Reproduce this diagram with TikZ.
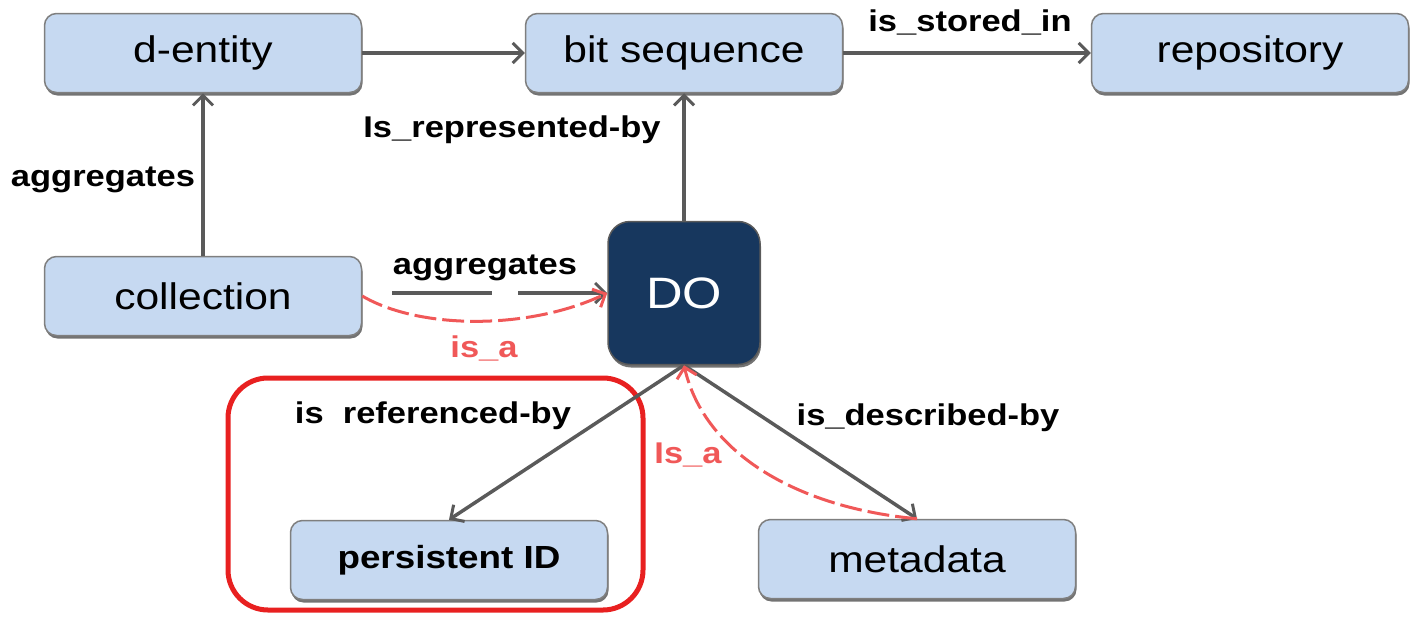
\documentclass[tikz,border=0pt]{standalone}
\usepackage{fontspec}
\setmainfont{Liberation Sans}[FakeStretch=1.15]
\usetikzlibrary{arrows.meta,shadows}
\definecolor{boxfill}{HTML}{C6D9F1}
\definecolor{boxline}{HTML}{7F7F7F}
\definecolor{dofill}{HTML}{17375E}
\definecolor{arrgray}{HTML}{5A5A5A}
\definecolor{framered}{HTML}{E82020}
\definecolor{isared}{HTML}{F05858}
\begin{document}
\begin{tikzpicture}[x=1pt,y=-1pt,
  entity/.style={draw=boxline, line width=1.5pt, fill=boxfill, rounded corners=12pt,
    minimum width=317pt, minimum height=79pt, inner sep=0pt,
    font=\fontsize{37}{40}\selectfont,
    drop shadow={shadow xshift=1pt, shadow yshift=-3pt, fill=black!55, opacity=1}},
  donode/.style={draw=arrgray, line width=1.5pt, fill=dofill, rounded corners=22pt,
    minimum width=152pt, minimum height=143pt, inner sep=0pt, text=white,
    font=\fontsize{44}{48}\selectfont,
    drop shadow={shadow xshift=1pt, shadow yshift=-3pt, fill=black!55, opacity=1}},
  rel/.style={draw=arrgray, line width=3.5pt, -{Straight Barb[length=10pt,width=20pt,line width=3pt]}},
  isa/.style={draw=isared, line width=3pt, dash pattern=on 22pt off 6pt, -{Straight Barb[length=10pt,width=20pt,line width=3pt]}},
  lbl/.style={font=\bfseries\fontsize{30}{32}\selectfont, inner sep=0pt},
  redlbl/.style={lbl, text=isared}
]
\useasboundingbox (0,0) rectangle (1417,622);

% red frame
\draw[framered, line width=5pt, rounded corners=40pt] (228,378) rectangle (643,610);

\node[entity] (dent) at (203,53) {d-entity};
\node[entity] (bits) at (684,53) {bit sequence};
\node[entity] (repo) at (1250,53) {repository};
\node[entity] (coll) at (203,296) {collection};
\node[donode] (do) at (684,293) {DO};
\node[entity, font=\bfseries\fontsize{32}{36}\selectfont] (pid) at (449,560) {persistent ID};
\node[entity] (meta) at (917,559) {metadata};

% relations
\draw[rel] (dent.east) -- (bits.west);
\draw[rel] (bits.east) -- (repo.west);
\draw[rel] (coll.north) -- (dent.south);
\draw[rel] (do.north) -- (bits.south);
\draw[rel, shorten <=30pt, dash pattern=on 100pt off 26pt on 200pt] (coll.east |- do.west) -- (do.west);
\draw[rel] (do.south) -- (pid.north);
\draw[rel] (do.south) -- (meta.north);

% is_a
\draw[isa] (coll.east) .. controls (420,330) and (530,330) .. (do.west);
\draw[isa] (meta.north) .. controls (800,508) and (705,455) .. (do.south);

% labels
\node[lbl] (l1) at (970,22) {is\_stored\_in};
\node[lbl] (l2) at (103,180) {aggregates};
\node[lbl] (l3) at (512,130) {Is\_represented-by};
\node[lbl] (l4) at (485,268) {aggregates};
\node[redlbl] (l5) at (484,348) {is\_a};
\node[lbl] (l6) at (433,416) {is~~referenced-by};
\node[lbl] (l7) at (928,418) {is\_described-by};
\node[redlbl] (l8) at (688,455) {Is\_a};
\end{tikzpicture}
\end{document}
